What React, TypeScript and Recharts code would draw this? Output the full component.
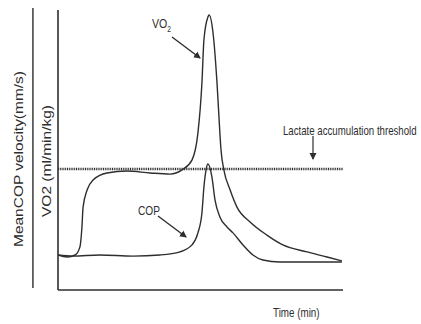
import React from 'react';
import { LineChart, Line, XAxis, YAxis, ReferenceLine } from 'recharts';

const vo2Time = [0, 3.2, 6.0, 7.7, 8.4, 8.8, 10.2, 12.3, 17.2, 24.2, 32.3, 39.3, 43.5, 47.0, 49.1, 50.5, 51.2, 52.6, 53.0, 54.4, 55.8, 56.8, 57.2, 58.2, 60.4, 62.8, 67.4, 73.3, 78.9, 87.4, 94.4, 99.6];
const vo2Values = [12.5, 11.8, 12.5, 15.4, 22.5, 29.6, 35.7, 39.3, 41.8, 42.5, 41.8, 41.4, 42.9, 46.4, 56.1, 73.9, 89.3, 97.5, 98.2, 91.8, 73.9, 56.1, 50.0, 42.9, 35.7, 29.6, 24.3, 19.6, 16.1, 13.6, 11.8, 10.4];

const copTime = [0, 5.3, 14.7, 26.3, 35.8, 42.8, 47.0, 49.1, 50.5, 51.2, 52.0, 52.6, 54.0, 55.1, 56.8, 59.3, 61.4, 64.9, 68.4, 71.9, 77.9, 87.4, 99.6];
const copValues = [12.5, 12.1, 12.5, 12.1, 12.5, 13.6, 16.1, 20.4, 27.5, 36.8, 43.2, 45.0, 40.4, 32.1, 26.1, 22.5, 20.4, 16.1, 12.5, 10.7, 10.0, 10.0, 10.0];

const lactateThreshold = 43.2;

const vo2Data = vo2Time.map((t, i) => ({ t, v: vo2Values[i] }));
const copData = copTime.map((t, i) => ({ t, v: copValues[i] }));

const INK = '#2e2e2e';
const SANS = "'Liberation Sans', Arial, sans-serif";

export default function App() {
  return (
    <div style={{ position: 'absolute', left: 0, top: 0, width: 421, height: 324, background: '#fff' }}>
      <LineChart width={421} height={324} margin={{ top: 10, right: 78, bottom: 34, left: 58 }}>
        <defs>
          <marker id="arrowHead" markerWidth="8" markerHeight="8" refX="6" refY="4" orient="auto" markerUnits="userSpaceOnUse">
            <path d="M0,0.5 L7,4 L0,7.5 Z" fill={INK} />
          </marker>
        </defs>
        <XAxis type="number" dataKey="t" domain={[0, 100]} hide allowDuplicatedCategory={false} />
        <YAxis type="number" domain={[0, 100]} hide />
        <ReferenceLine x={0} stroke={INK} strokeWidth={1.6} />
        <ReferenceLine y={0} stroke={INK} strokeWidth={1.6} />
        <ReferenceLine
          ifOverflow="visible"
          segment={[{ x: -8.8, y: 0.7 }, { x: -8.8, y: 100.7 }]}
          stroke={INK}
          strokeWidth={1.4}
        />
        <ReferenceLine y={lactateThreshold} stroke={INK} strokeWidth={2.6} strokeDasharray="1 0.8" />
        <Line data={vo2Data} dataKey="v" type="monotone" stroke={INK} strokeWidth={1.4} dot={false} isAnimationActive={false} />
        <Line data={copData} dataKey="v" type="monotone" stroke={INK} strokeWidth={1.4} dot={false} isAnimationActive={false} />
        <line x1={172} y1={37} x2={200} y2={58} stroke={INK} strokeWidth={1.4} markerEnd="url(#arrowHead)" />
        <line x1={158} y1={216} x2={186} y2={237} stroke={INK} strokeWidth={1.4} markerEnd="url(#arrowHead)" />
        <line x1={313} y1={136} x2={313} y2={159} stroke={INK} strokeWidth={1.2} markerEnd="url(#arrowHead)" />
        <g transform="translate(152 28) scale(0.78 1)">
          <text x={0} y={0} fontFamily={SANS} fontSize={13.5} fill={INK}>
            VO<tspan fontSize={8.5} dy={3.5}>2</tspan>
          </text>
        </g>
        <g transform="translate(138 215) scale(0.75 1)">
          <text x={0} y={0} fontFamily={SANS} fontSize={13.5} fill={INK}>COP</text>
        </g>
        <g transform="translate(283 135) scale(0.734 1)">
          <text x={0} y={0} fontFamily={SANS} fontSize={13} fill={INK} textLength={182} lengthAdjust="spacingAndGlyphs">Lactate accumulation threshold</text>
        </g>
        <g transform="translate(273 317) scale(0.757 1)">
          <text x={0} y={0} fontFamily={SANS} fontSize={13} fill={INK}>Time (min)</text>
        </g>
        <text x={18} y={159} fontFamily={SANS} fontSize={13} fill={INK} textAnchor="middle" transform="rotate(-90 18 159)" dominantBaseline="central" textLength={176} lengthAdjust="spacingAndGlyphs">
          MeanCOP velocity(mm/s)
        </text>
        <text x={46} y={161} fontFamily={SANS} fontSize={13} fill={INK} textAnchor="middle" transform="rotate(-90 46 161)" dominantBaseline="central" textLength={112} lengthAdjust="spacingAndGlyphs">
          VO2 (ml/min/kg)
        </text>
      </LineChart>
    </div>
  );
}
